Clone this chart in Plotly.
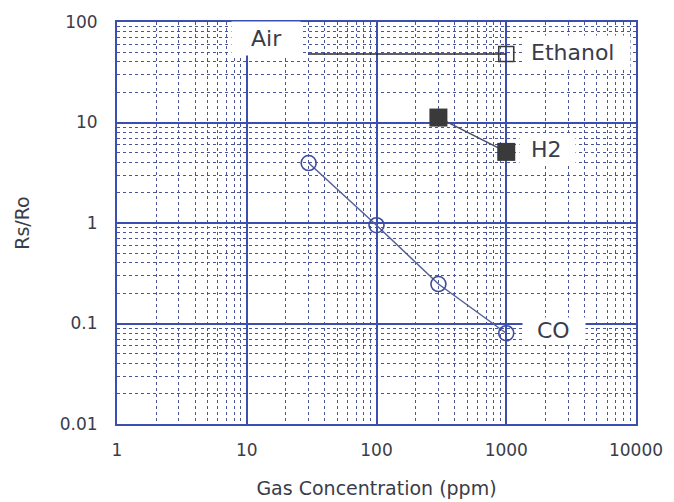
import plotly.graph_objects as go

# ---- data ----
co_x = [30, 100, 300, 1000]
co_y = [3.95, 0.95, 0.247, 0.08]
h2_x = [300, 1000]
h2_y = [11.2, 5.1]
eth_x = [30, 1000]
eth_y = [48, 48]

x_ticks = [1, 10, 100, 1000, 10000]
x_ticktext = ["1", "10", "100", "1000", "10000"]
y_ticks = [0.01, 0.1, 1, 10, 100]
y_ticktext = ["0.01", "0.1", "1", "10", "100"]

minor_x = [d * m for d in x_ticks[:-1] for m in range(2, 10)]
minor_y = [d * m for d in y_ticks[:-1] for m in range(2, 10)]

BLUE = "#3a4fb0"
MINOR = "#4a5598"
TXT = "#3a3c4a"
FONT = "DejaVu Sans"

fig = go.Figure()

fig.add_trace(go.Scatter(
    x=eth_x, y=eth_y, mode="lines",
    line=dict(color="#2a2a2a", width=1.6),
    showlegend=False))
fig.add_trace(go.Scatter(
    x=eth_x[-1:], y=eth_y[-1:], mode="markers",
    marker=dict(symbol="square-open", size=15, color="#3a3a3a",
                line=dict(width=1.6)),
    showlegend=False, cliponaxis=False))

fig.add_trace(go.Scatter(
    x=h2_x, y=h2_y, mode="lines+markers",
    line=dict(color="#4a4f66", width=1.5),
    marker=dict(symbol="square", size=18, color="#3a3a3a"),
    showlegend=False))

fig.add_trace(go.Scatter(
    x=co_x, y=co_y, mode="lines+markers",
    line=dict(color="#55609a", width=1.5),
    marker=dict(symbol="circle-open", size=15, color="#3f4c9a",
                line=dict(width=1.6)),
    showlegend=False))

# white label boxes: (center x, center y, width px, height px)
boxes = [
    (0.287, 0.958, 68, 33),    # Air
    (0.885, 0.925, 107, 32),   # Ethanol
    (0.829, 0.684, 55, 30),    # H2
    (0.842, 0.231, 62, 26),    # CO
]
for x, y, w, h in boxes:
    fig.add_annotation(text=" ", xref="paper", yref="paper", x=x, y=y,
                       showarrow=False, xanchor="center", yanchor="middle",
                       width=w, height=h, bgcolor="white", borderpad=0,
                       font=dict(size=4))

labels = [
    ("Air", 0.289, 0.958),
    ("Ethanol", 0.877, 0.925),
    ("H2", 0.827, 0.684),
    ("CO", 0.841, 0.232),
]
for t, x, y in labels:
    fig.add_annotation(text=t, xref="paper", yref="paper", x=x, y=y,
                       showarrow=False, xanchor="center", yanchor="middle",
                       font=dict(family=FONT, size=22, color=TXT))

axis_common = dict(
    type="log", automargin=False,
    showgrid=True, gridcolor=BLUE, gridwidth=1.5,
    showline=True, mirror=True, linecolor=BLUE, linewidth=2,
    ticks="", zeroline=False,
    tickfont=dict(family=FONT, size=17, color=TXT),
)

fig.update_xaxes(
    **axis_common,
    range=[0, 4],
    tickmode="array", tickvals=x_ticks, ticktext=x_ticktext,
    minor=dict(tickmode="array", tickvals=minor_x, showgrid=True,
               gridcolor=MINOR, griddash="dot", gridwidth=1.2),
    ticklabelstandoff=10,
    title=dict(text="Gas Concentration (ppm)",
               font=dict(family=FONT, size=19, color=TXT), standoff=22),
)
fig.update_yaxes(
    **axis_common,
    range=[-2, 2],
    tickmode="array", tickvals=y_ticks, ticktext=y_ticktext,
    minor=dict(tickmode="array", tickvals=minor_y, showgrid=True,
               gridcolor=MINOR, griddash="dot", gridwidth=1.2),
    ticklabelstandoff=14,
    title=dict(text="Rs/Ro",
               font=dict(family=FONT, size=19, color=TXT), standoff=25),
)

fig.update_layout(
    width=666, height=494,
    margin=dict(l=109, r=38, t=14, b=78),
    plot_bgcolor="white", paper_bgcolor="white",
)

fig.write_html("out.html")
